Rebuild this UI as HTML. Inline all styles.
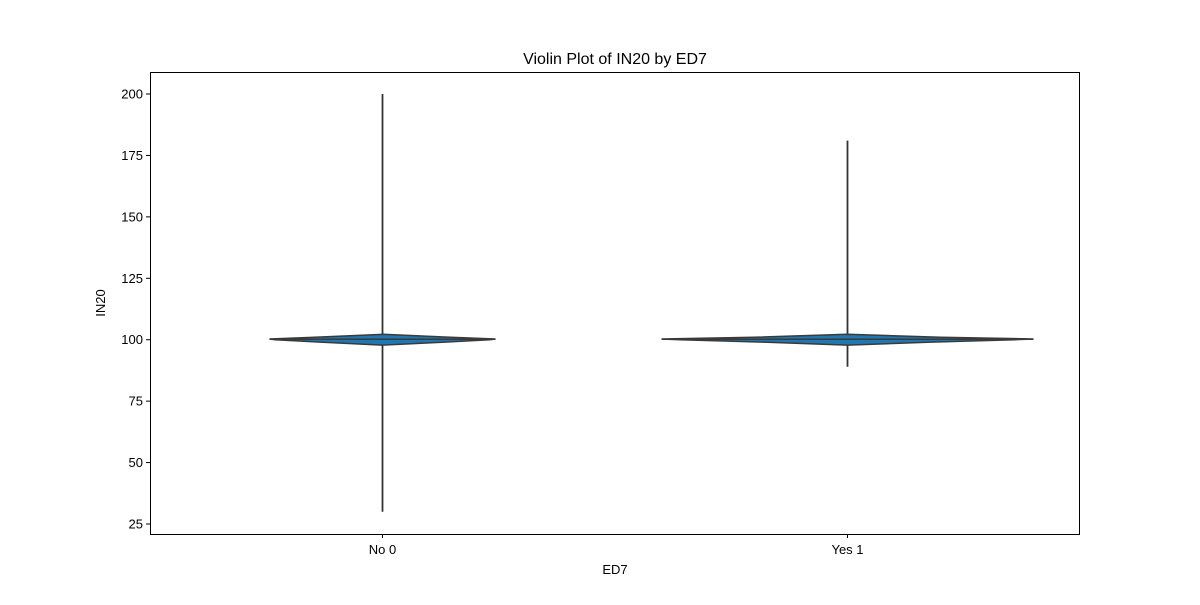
<!DOCTYPE html>
<html><head><meta charset="utf-8"><style>
body{margin:0;background:#fff;font-family:"Liberation Sans",sans-serif}
text{font-family:"Liberation Sans","DejaVu Sans",sans-serif;fill:#000}
</style></head><body>
<svg id="c" width="1200" height="600" xmlns="http://www.w3.org/2000/svg">
<rect width="1200" height="600" fill="#fff"/>
<text x="615" y="64" font-size="16" text-anchor="middle">Violin Plot of IN20 by ED7</text>
<text x="615" y="574" font-size="13" text-anchor="middle">ED7</text>
<text transform="translate(105,303) rotate(-90)" font-size="13" text-anchor="middle">IN20</text>
<g id="marks"></g>
<rect x="150.5" y="72.5" width="929" height="462" fill="none" stroke="#000" stroke-width="1"/>
</svg>
<script>
const categories = ["No 0", "Yes 1"];
const whiskerMin = [30, 89];
const whiskerMax = [200, 181];
const q1 = [99.2, 99.0];
const q3 = [101.2, 101.0];
const profileValues = [97.8, 99, 100, 100.3, 101, 102.2];
const densityNo = [0, 0.55, 0.95, 1.0, 0.6, 0];
const densityYes = [0, 0.45, 0.9, 1.0, 0.5, 0];
const maxHalfWidth = [113, 186];
const yTicks = [25, 50, 75, 100, 125, 150, 175, 200];

const NS = "http://www.w3.org/2000/svg";
const L = 150, R = 1080, T = 72, B = 534;
const y = v => 94 + (200 - v) * (430 / 175);
const band = (R - L) / categories.length;
const xc = i => L + band * (i + 0.5);
const g = document.getElementById('marks');
function mk(tag, attrs, parent) { const e = document.createElementNS(NS, tag); for (const k in attrs) e.setAttribute(k, attrs[k]); (parent || g).appendChild(e); return e; }

yTicks.forEach(t => {
  const tk = mk('line', {x1: L - 4, x2: L, y1: y(t), y2: y(t), stroke: '#000'});
  
  
  const tx = mk('text', {x: L - 7, y: y(t) + 4.5, 'font-size': 13, 'text-anchor': 'end'});
  tx.textContent = t;
  
  
});

const dens = [densityNo, densityYes];
categories.forEach((c, i) => {
  const cx = xc(i);
  const tk = mk('line', {x1: cx, x2: cx, y1: B, y2: B + 4, stroke: '#000'});
  
  
  const tx = mk('text', {x: cx, y: B + 20, 'font-size': 13, 'text-anchor': 'middle'});
  tx.textContent = c;
  
  

  const wl = mk('line', {x1: cx, x2: cx, y1: y(whiskerMax[i]), y2: y(whiskerMin[i]), stroke: '#333', 'stroke-width': 1.8});
  
  

  const hw = maxHalfWidth[i];
  const right = profileValues.map((v, k) => (cx + dens[i][k] * hw) + ',' + y(v));
  const left = profileValues.map((v, k) => (cx - dens[i][k] * hw) + ',' + y(v)).reverse();
  const p = mk('polygon', {points: right.concat(left).join(' '), fill: '#1f77b4', stroke: '#3a3a3a', 'stroke-width': 1.5});
  
  

  const ml = mk('line', {x1: cx - hw, x2: cx + hw, y1: y(100.2), y2: y(100.2), stroke: '#3a3a3a', 'stroke-width': 1.5});
  
  
});
</script>
</body></html>
